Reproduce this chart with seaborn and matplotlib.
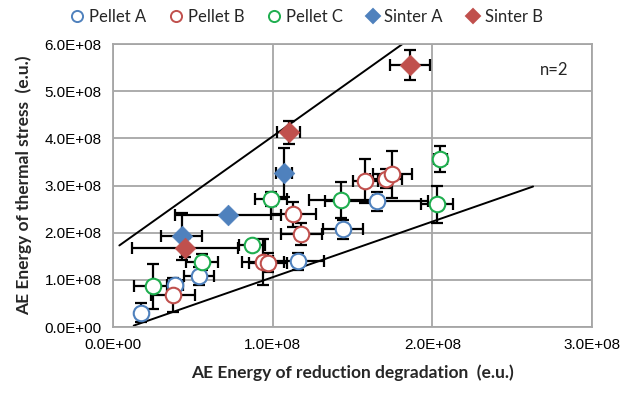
import matplotlib
matplotlib.use("Agg")
import matplotlib.pyplot as plt
import seaborn as sns
import pandas as pd
import numpy as np
from matplotlib.ticker import FuncFormatter, MultipleLocator

sns.set_theme(style="white")
plt.rcParams['font.family'] = ['Liberation Sans', 'DejaVu Sans']

# ---- data (units of 1E8 e.u.) ----
pa_x = [0.176, 0.388, 0.54, 1.16, 1.44, 1.65]
pa_y = [0.30, 0.90, 1.09, 1.39, 2.07, 2.67]
pa_xerr = [0.0, 0.05, 0.094, 0.16, 0.125, 0.32]
pa_yerr = [0.2, 0.1, 0.19, 0.19, 0.2, 0.2]

pb_x = [0.376, 0.94, 0.97, 1.13, 1.18, 1.58, 1.71, 1.75]
pb_y = [0.67, 1.38, 1.36, 2.39, 1.98, 3.09, 3.15, 3.24]
pb_xerr = [0.14, 0.13, 0.12, 0.14, 0.13, 0.08, 0.1, 0.12]
pb_yerr = [0.36, 0.48, 0.2, 0.27, 0.23, 0.47, 0.2, 0.5]

pc_x = [0.25, 0.56, 0.87, 0.99, 1.43, 2.03, 2.05]
pc_y = [0.86, 1.37, 1.73, 2.72, 2.70, 2.60, 3.56]
pc_xerr = [0.12, 0.1, 0.08, 0.1, 0.2, 0.1, 0.04]
pc_yerr = [0.48, 0.17, 0.1, 0.15, 0.38, 0.4, 0.27]

sa_x = [0.43, 0.72, 1.07]
sa_y = [1.92, 2.38, 3.27]
sa_xerr = [0.13, 0.33, 0.05]
sa_yerr = [0.5, 0.0, 0.52]

sb_x = [0.45, 1.10, 1.86]
sb_y = [1.68, 4.13, 5.56]
sb_xerr = [0.33, 0.07, 0.125]
sb_yerr = [0.2, 0.25, 0.32]

upper_x = [0.04, 1.82]
upper_y = [1.73, 6.02]
lower_x = [0.13, 2.63]
lower_y = [0.03, 2.98]

series = [
    ("Pellet A", pa_x, pa_y, pa_xerr, pa_yerr, "o", "#4F81BD", True),
    ("Pellet B", pb_x, pb_y, pb_xerr, pb_yerr, "o", "#C0504D", True),
    ("Pellet C", pc_x, pc_y, pc_xerr, pc_yerr, "o", "#1FAE4F", True),
    ("Sinter A", sa_x, sa_y, sa_xerr, sa_yerr, "D", "#4F81BD", False),
    ("Sinter B", sb_x, sb_y, sb_xerr, sb_yerr, "D", "#C0504D", False),
]

SCALE = 1e8

fig = plt.figure(figsize=(6.24, 3.94), dpi=100)
ax = fig.add_axes([0.181, 0.170, 0.768, 0.718])

# trend lines
sns.lineplot(x=np.array(upper_x) * SCALE, y=np.array(upper_y) * SCALE, color="black",
             linewidth=1.4, ax=ax, zorder=2)
sns.lineplot(x=np.array(lower_x) * SCALE, y=np.array(lower_y) * SCALE, color="black",
             linewidth=1.4, ax=ax, zorder=2)

handles = []
for name, xs, ys, xe, ye, mk, col, hollow in series:
    xs = np.array(xs) * SCALE
    ys = np.array(ys) * SCALE
    ax.errorbar(xs, ys, xerr=np.array(xe) * SCALE, yerr=np.array(ye) * SCALE,
                fmt="none", ecolor="black", elinewidth=1.6, capsize=4.5,
                capthick=1.6, zorder=3)
    df = pd.DataFrame({"x": xs, "y": ys})
    if hollow:
        sns.scatterplot(data=df, x="x", y="y", marker=mk, s=125, color="white",
                        edgecolor=col, linewidth=1.5, ax=ax, zorder=4)
    else:
        sns.scatterplot(data=df, x="x", y="y", marker=mk, s=110, color=col,
                        edgecolor=col, linewidth=0.5, ax=ax, zorder=4)
    h = plt.Line2D([], [], linestyle="none", marker=mk,
                   markersize=8 if hollow else 7.5,
                   markerfacecolor="white" if hollow else col,
                   markeredgecolor=col, markeredgewidth=1.4)
    handles.append((h, name))

ax.set_xlim(0, 3e8)
ax.set_ylim(0, 6e8)
ax.xaxis.set_major_locator(MultipleLocator(1e8))
ax.yaxis.set_major_locator(MultipleLocator(1e8))
fmt = FuncFormatter(lambda v, p: f"{v:.1E}")
ax.xaxis.set_major_formatter(fmt)
ax.yaxis.set_major_formatter(fmt)
ax.tick_params(axis="both", labelsize=11, length=0, pad=8, colors="#000000")
ax.grid(True, color="#A6A6A6", linewidth=1.3)
for s in ax.spines.values():
    s.set_color("#A6A6A6")
    s.set_linewidth(1.3)

ax.set_xlabel("AE Energy of reduction degradation  (e.u.)", fontsize=12.5,
              fontweight="bold", family=["Lato", "DejaVu Sans"], labelpad=9)
ax.set_ylabel("AE Energy of thermal stress  (e.u.)", fontsize=12.5,
              fontweight="bold", family=["Lato", "DejaVu Sans"], labelpad=9)

ax.text(0.95, 0.91, "n=2", transform=ax.transAxes, ha="right", va="center",
        fontsize=12, family=["Lato", "DejaVu Sans"])

leg = fig.legend([h for h, _ in handles], [n for _, n in handles], ncol=5,
                 loc="center", bbox_to_anchor=(0.49, 0.958), frameon=False,
                 handletextpad=0.2, columnspacing=1.3, handlelength=1.0,
                 prop={"family": ["Lato", "DejaVu Sans"], "size": 12})

fig.savefig("out.png", dpi=100)
